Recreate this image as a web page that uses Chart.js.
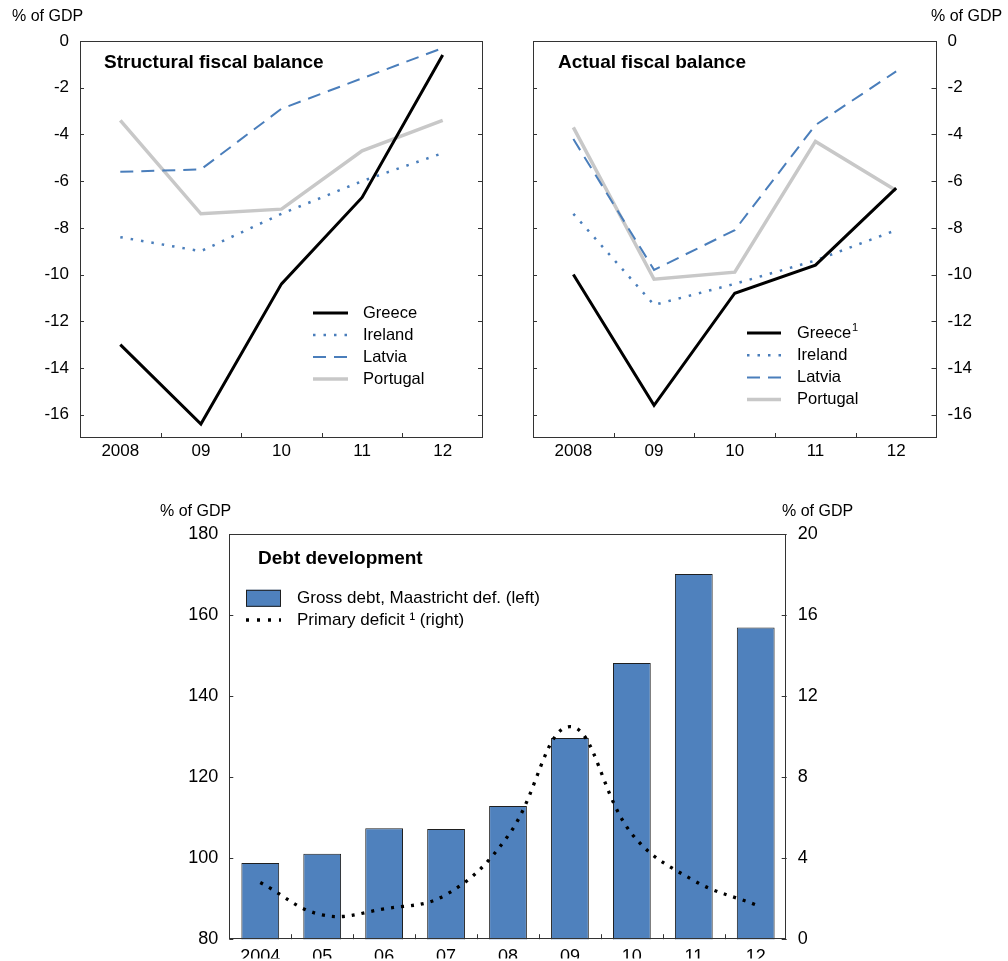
<!DOCTYPE html>
<html>
<head>
<meta charset="utf-8">
<script src="https://cdn.jsdelivr.net/npm/chart.js@4.4.1/dist/chart.umd.min.js"></script>
<style>
  body { margin: 0; background: #fff; width: 1008px; height: 961px; position: relative; overflow: hidden; }
  canvas { position: absolute; }
</style>
</head>
<body>
<canvas id="grafico_estrutural" style="left:0;top:0;width:500px;height:470px" width="500" height="470"></canvas>
<canvas id="grafico_efetivo" style="left:500px;top:0;width:508px;height:470px" width="508" height="470"></canvas>
<canvas id="grafico_divida" style="left:0;top:470px;width:1008px;height:491px" width="1008" height="491"></canvas>
<script>
// --- Dados ---
const anosTopo = ['2008', '09', '10', '11', '12'];
const paises = ['Greece', 'Ireland', 'Latvia', 'Portugal'];
const ticksSaldo = [0, -2, -4, -6, -8, -10, -12, -14, -16];

// Saldo orçamental estrutural
const estrGrecia = [-13.0, -16.4, -10.4, -6.7, -0.6];
const estrIrlanda = [-8.4, -9.0, -7.4, -6.0, -4.8];
const estrLetonia = [-5.6, -5.5, -2.9, -1.6, -0.3];
const estrPortugal = [-3.4, -7.4, -7.2, -4.7, -3.4];

// Saldo orçamental efetivo
const efetGrecia = [-10.0, -15.6, -10.8, -9.6, -6.3];
const efetIrlanda = [-7.4, -11.3, -10.4, -9.4, -8.1];
const efetLetonia = [-4.2, -9.8, -8.1, -3.6, -1.3];
const efetPortugal = [-3.7, -10.2, -9.9, -4.3, -6.4];

// Evolução da dívida
const anosDivida = ['2004', '05', '06', '07', '08', '09', '10', '11', '12'];
const dividaBruta = [98.8, 101.1, 107.4, 107.2, 112.9, 129.7, 148.2, 170.2, 157.0];
const defictPrimario = [2.8, 1.2, 1.5, 2.2, 5.1, 10.5, 5.2, 2.9, 1.7];
const ticksDivida = [80, 100, 120, 140, 160, 180];
const ticksDefice = [0, 4, 8, 12, 16, 20];

const FONTE = '"Liberation Sans", Arial, sans-serif';
Chart.defaults.font.family = FONTE;
Chart.defaults.color = '#000';

// estilos das linhas por país
const estilos = [
  { borderColor: '#000000', borderWidth: 3, borderDash: [] },
  { borderColor: '#4a7ebb', borderWidth: 2.5, borderDash: [2.5, 8] },
  { borderColor: '#4a7ebb', borderWidth: 2, borderDash: [13, 8] },
  { borderColor: '#c8c8c8', borderWidth: 3.5, borderDash: [] }
];

// --- Plugin: moldura, marcas internas, títulos e legenda ---
const moldura = {
  id: 'moldura',
  afterDatasetsDraw(chart, args, opts) {
    const ctx = chart.ctx;
    const a = chart.chartArea;
    ctx.save();
    ctx.strokeStyle = '#333';
    ctx.lineWidth = 1;
    ctx.strokeRect(Math.round(a.left) + 0.5, Math.round(a.top) + 0.5, Math.round(a.width) - 1, Math.round(a.height) - 1);

    // marcas do eixo y para dentro, dos dois lados
    const sy = chart.scales[opts.eixoY];
    sy.ticks.forEach(t => {
      const y = Math.round(sy.getPixelForValue(t.value)) + 0.5;
      ctx.beginPath();
      ctx.moveTo(a.left, y); ctx.lineTo(a.left + 4, y);
      ctx.moveTo(a.right - 5, y); ctx.lineTo(a.right, y);
      ctx.stroke();
    });
    // marcas do eixo x entre categorias
    const sx = chart.scales.x;
    const n = chart.data.labels.length;
    for (let i = 0; i < n - 1; i++) {
      const x = Math.round((sx.getPixelForValue(i) + sx.getPixelForValue(i + 1)) / 2) + 0.5;
      ctx.beginPath();
      ctx.moveTo(x, a.bottom); ctx.lineTo(x, a.bottom - 5);
      ctx.stroke();
    }
    ctx.restore();
  },
  afterDraw(chart, args, opts) {
    const ctx = chart.ctx;
    ctx.save();
    ctx.fillStyle = '#000';
    ctx.textBaseline = 'middle';
    (opts.textos || []).forEach(t => {
      ctx.font = t.font;
      ctx.textAlign = 'left';
      ctx.fillText(t.texto, t.x, t.y);
    });
    const leg = opts.legenda;
    if (leg) {
      leg.itens.forEach((it, i) => {
        const y = leg.y + i * leg.passo;
        ctx.save();
        if (it.caixa) {
          ctx.fillStyle = it.caixa;
          ctx.strokeStyle = '#1f1f1f';
          ctx.lineWidth = 1;
          ctx.fillRect(leg.x0, y - 8.5, leg.x1 - leg.x0, 17);
          ctx.strokeRect(leg.x0 + 0.5, y - 8, leg.x1 - leg.x0 - 1, 16);
        } else {
          ctx.strokeStyle = it.cor;
          ctx.lineWidth = it.largura;
          ctx.setLineDash(it.tracejado || []);
          ctx.beginPath();
          ctx.moveTo(leg.x0, y); ctx.lineTo(leg.x1, y);
          ctx.stroke();
        }
        ctx.restore();
        ctx.font = leg.font;
        ctx.fillText(it.texto, leg.xt, y);
        if (it.sup) {
          const w = ctx.measureText(it.texto).width;
          ctx.font = '11px ' + FONTE;
          ctx.fillText(it.sup, leg.xt + w + 1, y - 5);
        }
      });
    }
    ctx.restore();
  }
};

function datasetsPaises(series) {
  return series.map((dados, i) => ({
    label: paises[i],
    data: dados,
    borderColor: estilos[i].borderColor,
    borderWidth: estilos[i].borderWidth,
    borderDash: estilos[i].borderDash,
    borderCapStyle: 'butt',
    pointRadius: 0,
    tension: 0,
    fill: false
  }));
}

function itensLegenda(sup) {
  return paises.map((p, i) => ({
    texto: p,
    sup: i === 0 ? sup : null,
    cor: estilos[i].borderColor,
    largura: estilos[i].borderWidth,
    tracejado: estilos[i].borderDash
  }));
}

const semGrelha = { display: false, drawTicks: false, tickLength: 0 };

function eixoX(tamanho, altura, espaco) {
  return {
    type: 'category',
    offset: true,
    grid: semGrelha,
    border: { display: false },
    afterFit: s => { s.height = altura; },
    ticks: { font: { size: tamanho }, padding: espaco, maxRotation: 0, autoSkip: false }
  };
}

function eixoY(posicao, largura, min, max, lista, tamanho) {
  return {
    position: posicao,
    min: min,
    max: max,
    grid: semGrelha,
    border: { display: false },
    afterBuildTicks: s => { s.ticks = lista.map(v => ({ value: v })); },
    afterFit: s => { s.width = largura; },
    ticks: { font: { size: tamanho }, padding: 11 }
  };
}

// --- Gráfico 1: saldo estrutural ---
new Chart(document.getElementById('grafico_estrutural'), {
  type: 'line',
  data: { labels: anosTopo, datasets: datasetsPaises([estrGrecia, estrIrlanda, estrLetonia, estrPortugal]) },
  options: {
    responsive: false,
    animation: false,
    layout: { padding: { top: 41, right: 17, left: 0, bottom: 0 } },
    scales: {
      x: eixoX(17, 32, 3),
      y: eixoY('left', 80, -17, 0, ticksSaldo, 17)
    },
    plugins: {
      legend: { display: false },
      tooltip: { enabled: false },
      moldura: {
        eixoY: 'y',
        textos: [
          { texto: '% of GDP', x: 12, y: 17, font: '16px ' + FONTE },
          { texto: 'Structural fiscal balance', x: 104, y: 63, font: 'bold 19px ' + FONTE }
        ],
        legenda: { x0: 313, x1: 348, xt: 363, y: 313, passo: 22, font: '16.5px ' + FONTE, itens: itensLegenda(null) }
      }
    }
  },
  plugins: [moldura]
});

// --- Gráfico 2: saldo efetivo ---
new Chart(document.getElementById('grafico_efetivo'), {
  type: 'line',
  data: { labels: anosTopo, datasets: datasetsPaises([efetGrecia, efetIrlanda, efetLetonia, efetPortugal]) },
  options: {
    responsive: false,
    animation: false,
    layout: { padding: { top: 41, right: 0, left: 33, bottom: 0 } },
    scales: {
      x: eixoX(17, 32, 3),
      y: eixoY('right', 71.5, -17, 0, ticksSaldo, 17)
    },
    plugins: {
      legend: { display: false },
      tooltip: { enabled: false },
      moldura: {
        eixoY: 'y',
        textos: [
          { texto: '% of GDP', x: 431, y: 17, font: '16px ' + FONTE },
          { texto: 'Actual fiscal balance', x: 58, y: 63, font: 'bold 19px ' + FONTE }
        ],
        legenda: { x0: 247, x1: 281, xt: 297, y: 333, passo: 22.2, font: '16.5px ' + FONTE, itens: itensLegenda('1') }
      }
    }
  },
  plugins: [moldura]
});

// --- Gráfico 3: dívida ---
new Chart(document.getElementById('grafico_divida'), {
  type: 'bar',
  data: {
    labels: anosDivida,
    datasets: [
      {
        type: 'line',
        label: 'Primary deficit ¹ (right)',
        data: defictPrimario,
        yAxisID: 'y1',
        borderColor: '#000',
        borderWidth: 3.3,
        borderDash: [3, 7],
        borderCapStyle: 'butt',
        pointRadius: 0,
        tension: 0.4,
        order: 0
      },
      {
        type: 'bar',
        label: 'Gross debt, Maastricht def. (left)',
        data: dividaBruta,
        yAxisID: 'y',
        backgroundColor: '#4f81bd',
        borderColor: '#1f1f1f',
        borderWidth: 1,
        barPercentage: 0.61,
        categoryPercentage: 1,
        order: 1
      }
    ]
  },
  options: {
    responsive: false,
    animation: false,
    layout: { padding: { top: 64.3, right: 121.3, left: 0, bottom: 0 } },
    scales: {
      x: eixoX(18, 19.3, 7),
      y: eixoY('left', 229.3, 80, 180, ticksDivida, 18),
      y1: eixoY('right', 100, 0, 20, ticksDefice, 18)
    },
    plugins: {
      legend: { display: false },
      tooltip: { enabled: false },
      moldura: {
        eixoY: 'y',
        textos: [
          { texto: '% of GDP', x: 160, y: 42, font: '16px ' + FONTE },
          { texto: '% of GDP', x: 782, y: 42, font: '16px ' + FONTE },
          { texto: 'Debt development', x: 258, y: 89, font: 'bold 19px ' + FONTE }
        ],
        legenda: {
          x0: 246, x1: 281, xt: 297, y: 128.3, passo: 21.7, font: '17px ' + FONTE,
          itens: [
            { texto: 'Gross debt, Maastricht def. (left)', caixa: '#4f81bd' },
            { texto: 'Primary deficit ¹ (right)', cor: '#000', largura: 3.3, tracejado: [3, 8] }
          ]
        }
      }
    }
  },
  plugins: [moldura]
});
</script>
</body>
</html>
